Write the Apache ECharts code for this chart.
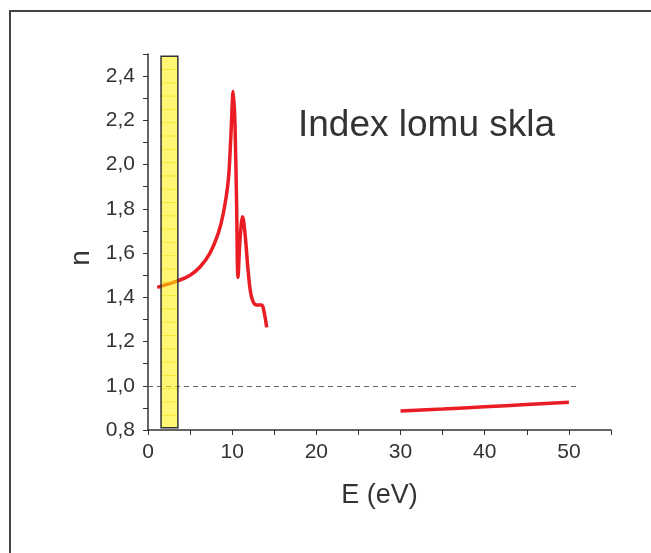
<!DOCTYPE html>
<html>
<head>
<meta charset="utf-8">
<script src="https://cdn.jsdelivr.net/npm/echarts@6/dist/echarts.min.js"></script>
<style>
  html, body { margin: 0; padding: 0; background: #fff; }
  #chart { width: 651px; height: 553px; }
</style>
</head>
<body>
<div id="chart"></div>
<script>
// index lomu - oblast do 14 eV
const energyLow = [1.1, 3.6, 5.0, 6.2, 7.36, 8.35, 8.95, 9.54, 9.82, 10.13, 10.33, 10.53, 10.69, 10.93, 11.24, 11.52, 11.92, 12.31, 12.9, 13.5, 13.78, 14.1];
const nLow = [1.445, 1.475, 1.50, 1.538, 1.60, 1.69, 1.78, 1.93, 2.11, 2.33, 2.186, 1.81, 1.49, 1.66, 1.764, 1.69, 1.51, 1.40, 1.365, 1.365, 1.335, 1.264];
// oblast 30 - 50 eV
const energyHigh = [30, 35, 40, 45, 50];
const nHigh = [0.886, 0.895, 0.905, 0.915, 0.925];
// viditelna oblast
const visibleBand = [1.55, 3.55];
const bandRange = [0.81, 2.49];
const refLevel = 1.0;
const refEnd = 51.2;

const pairs = (xs, ys) => xs.map((x, i) => [x, ys[i]]);
const fmtComma = v => v.toFixed(1).replace('.', ',');
const FONT = '"Liberation Sans", Arial, sans-serif';

function renderBand(params, api) {
  const p0 = api.coord([api.value(0), api.value(3)]);
  const p1 = api.coord([api.value(1), api.value(2)]);
  const children = [];
  // jemne vodorovne prouzky uvnitr pasu
  for (let y = p0[1] + 13.3; y < p1[1] - 2; y += 13.3) {
    children.push({
      type: 'line',
      shape: { x1: p0[0] + 1, y1: y, x2: p1[0] - 1, y2: y },
      style: { stroke: 'rgba(235,215,0,0.55)', lineWidth: 1 }
    });
  }
  children.unshift({
    type: 'rect',
    shape: { x: p0[0], y: p0[1], width: p1[0] - p0[0], height: p1[1] - p0[1] },
    style: { fill: 'rgba(255,238,0,0.55)', stroke: '#333', lineWidth: 1.5 }
  });
  return { type: 'group', children: children };
}

const chart = echarts.init(document.getElementById('chart'));
chart.setOption({
  animation: false,
  backgroundColor: '#fff',
  textStyle: { fontFamily: FONT },
  graphic: [{
    type: 'rect',
    shape: { x: 10, y: 11, width: 700, height: 600 },
    style: { fill: 'none', stroke: '#444', lineWidth: 2 },
    silent: true
  }, {
    type: 'text',
    left: 298,
    top: 107,
    style: { text: 'Index lomu skla', fill: '#333', font: '37px ' + FONT }
  }],
  grid: { left: 148, right: 40, top: 54, bottom: 123, containLabel: false },
  xAxis: {
    type: 'value',
    min: 0, max: 55, interval: 10,
    name: 'E (eV)',
    nameLocation: 'middle',
    nameGap: 52,
    nameTextStyle: { fontSize: 27, color: '#333' },
    axisLine: { show: true, lineStyle: { color: '#333', width: 1.5 } },
    axisTick: { show: true, length: 5, lineStyle: { color: '#333' } },
    minorTick: { show: true, splitNumber: 2, length: 5, lineStyle: { color: '#333' } },
    axisLabel: { fontSize: 21, color: '#333', margin: 12, showMaxLabel: false },
    splitLine: { show: false }
  },
  yAxis: {
    type: 'value',
    min: 0.8, max: 2.5, interval: 0.2,
    name: 'n',
    nameLocation: 'middle',
    nameGap: 46,
    nameRotate: 90,
    nameTextStyle: { fontSize: 28, color: '#333', padding: [0, 32, 0, 0] },
    axisLine: { show: true, lineStyle: { color: '#333', width: 1.5 } },
    axisTick: { show: true, length: 5, lineStyle: { color: '#333' } },
    minorTick: { show: true, splitNumber: 2, length: 5, lineStyle: { color: '#333' } },
    axisLabel: { fontSize: 21, color: '#333', margin: 13, formatter: fmtComma, showMaxLabel: false },
    splitLine: { show: false }
  },
  series: [{
    type: 'line',
    data: pairs(energyLow, nLow),
    smooth: 0.35,
    showSymbol: false,
    z: 2,
    lineStyle: { color: '#ea1c24', width: 3.5 },
    markLine: {
      silent: true,
      symbol: 'none',
      label: { show: false },
      lineStyle: { color: '#666', type: [5, 4], width: 1 },
      data: [[{ coord: [0, refLevel] }, { coord: [refEnd, refLevel] }]]
    }
  }, {
    type: 'line',
    data: pairs(energyHigh, nHigh),
    smooth: true,
    showSymbol: false,
    z: 2,
    lineStyle: { color: '#ea1c24', width: 3.5 }
  }, {
    type: 'custom',
    z: 5,
    silent: true,
    renderItem: renderBand,
    data: [[visibleBand[0], visibleBand[1], bandRange[0], bandRange[1]]]
  }]
});
</script>
</body>
</html>
